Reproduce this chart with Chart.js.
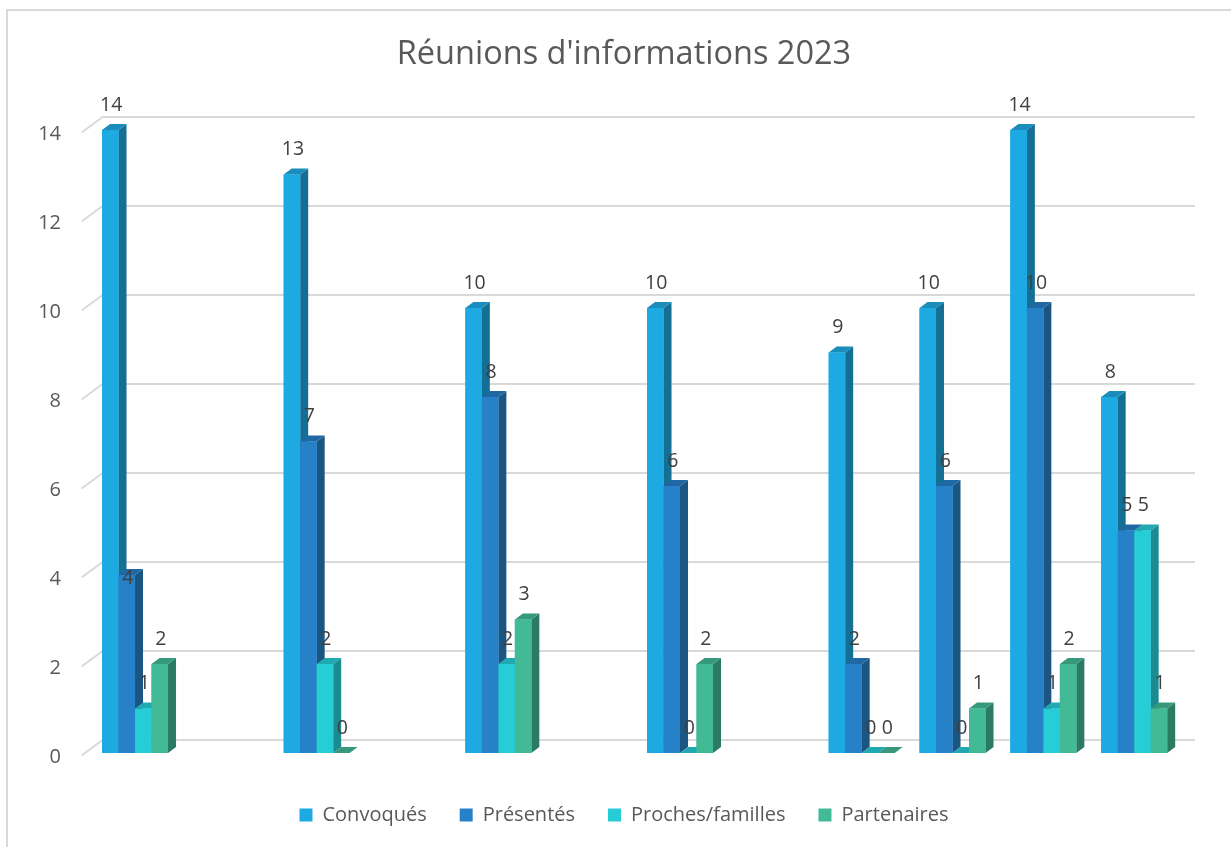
<!DOCTYPE html>
<html>
<head>
<meta charset="utf-8">
<script src="https://cdn.jsdelivr.net/npm/chart.js@4.4.1/dist/chart.umd.min.js"></script>
<style>
html,body{margin:0;padding:0;background:#fff;overflow:hidden}
#wrap{position:relative;width:1231px;height:847px;overflow:hidden}
#frame{position:absolute;left:6px;top:9px;width:1400px;height:1000px;border:2px solid #d9d9d9;box-sizing:border-box}
canvas{position:absolute;left:0;top:0}
</style>
</head>
<body>
<div id="wrap"><div id="frame"></div><canvas id="c" width="1231" height="847"></canvas></div>
<script>
// ---- data ----
const title = "Réunions d'informations 2023";
const categories = ['janv.', 'févr.', 'mars', 'avr.', 'mai', 'juin', 'juil.', 'août', 'sept.', 'oct.', 'nov.', 'déc.'];
const seriesNames = ['Convoqués', 'Présentés', 'Proches/familles', 'Partenaires'];
const convoques  = [14, null, 13, null, 10, null, 10, null, 9, 10, 14, 8];
const presentes  = [4,  null, 7,  null, 8,  null, 6,  null, 2, 6,  10, 5];
const proches    = [1,  null, 2,  null, 2,  null, 0,  null, 0, 0,  1,  5];
const partenaires= [2,  null, 0,  null, 3,  null, 2,  null, 0, 1,  2,  1];
const yTicks = [0, 2, 4, 6, 8, 10, 12, 14];

// ---- style ----
const FONT = "'Open Sans', 'DejaVu Sans', sans-serif";
const frontColors = ['#1DAAE2', '#2681C8', '#26CCD6', '#42BA96'];
const topColors   = ['#1A8DBC', '#2068A3', '#21A9B1', '#36997B'];
const sideColors  = ['#146F94', '#1B5683', '#1A8C91', '#2B7B62'];
const DX = 8, DY = -6;

const bars3d = {
  id: 'bars3d',
  beforeDatasetsDraw(chart) {
    const ctx = chart.ctx, y = chart.scales.y, area = chart.chartArea;
    ctx.save();
    ctx.strokeStyle = '#d9d9d9';
    ctx.lineWidth = 2;
    y.ticks.forEach(t => {
      const py = y.getPixelForValue(t.value);
      ctx.beginPath();
      ctx.moveTo(area.left - 8, py + 2.5);
      ctx.lineTo(area.left + 13, py - 13);
      ctx.lineTo(1195, py - 13);
      ctx.stroke();
    });
    ctx.restore();
  },
  afterDatasetsDraw(chart, args, opts) {
    const ctx = chart.ctx;
    ctx.save();
    const n = chart.data.labels.length;
    const labels = [];
    for (let i = 0; i < n; i++) {
      chart.data.datasets.forEach((ds, d) => {
        const v = ds.data[i];
        if (v === null || v === undefined) return;
        const el = chart.getDatasetMeta(d).data[i];
        const p = el.getProps(['x', 'y', 'base', 'width'], true);
        const l = p.x - p.width / 2, r = p.x + p.width / 2;
        ctx.fillStyle = sideColors[d];
        ctx.beginPath();
        ctx.moveTo(r, p.y); ctx.lineTo(r + DX, p.y + DY);
        ctx.lineTo(r + DX, p.base + DY); ctx.lineTo(r, p.base);
        ctx.closePath(); ctx.fill();
        ctx.fillStyle = topColors[d];
        ctx.beginPath();
        ctx.moveTo(l, p.y); ctx.lineTo(l + DX, p.y + DY);
        ctx.lineTo(r + DX, p.y + DY); ctx.lineTo(r, p.y);
        ctx.closePath(); ctx.fill();
        ctx.fillStyle = frontColors[d];
        ctx.fillRect(l, p.y, p.width, p.base - p.y);
        let dy = 0;
        (opts.nudge || []).forEach(nd => { if (nd.dataset === d && nd.index === i) dy = nd.dy; });
        labels.push({x: p.x + 1, y: p.y - 25 + dy, t: String(v)});
      });
    }
    ctx.fillStyle = '#404040';
    ctx.font = '19.5px ' + FONT;
    ctx.textAlign = 'center';
    ctx.textBaseline = 'middle';
    labels.forEach(lb => ctx.fillText(lb.t, lb.x, lb.y));
    ctx.restore();
  }
};

new Chart(document.getElementById('c'), {
  type: 'bar',
  data: {
    labels: categories,
    datasets: [convoques, presentes, proches, partenaires].map((arr, d) => ({
      label: seriesNames[d],
      data: arr,
      backgroundColor: frontColors[d],
      borderWidth: 0,
      categoryPercentage: 0.7266,
      barPercentage: 1,
      yAxisID: 'y'
    }))
  },
  options: {
    responsive: false,
    animation: false,
    events: [],
    layout: { padding: { left: 30, right: 13, top: 0, bottom: 12 } },
    scales: {
      x: {
        ticks: { display: false },
        grid: { display: false, drawTicks: false },
        border: { display: false },
        afterFit(s) { s.height = 19; }
      },
      y: {
        min: 0, max: 14,
        ticks: { stepSize: 2, color: '#595959', font: { family: FONT, size: 20 }, padding: 28.6, labelOffset: 4.5 },
        grid: { display: false, drawTicks: false },
        border: { display: false },
        afterFit(s) { s.width = 59.6; }
      },
      yR: {
        type: 'linear',
        position: 'right',
        min: 0, max: 14,
        ticks: { display: false },
        grid: { display: false, drawTicks: false },
        border: { display: false },
        afterFit(s) { s.width = 38.4; }
      }
    },
    plugins: {
      title: {
        display: true, text: title, color: '#595959',
        font: { family: FONT, size: 32.5, weight: 'normal' },
        padding: { top: 35.5, bottom: 55.5 }
      },
      legend: {
        position: 'bottom',
        labels: { boxWidth: 13, boxHeight: 13, padding: 33, color: '#595959', font: { family: FONT, size: 20 } }
      },
      tooltip: { enabled: false },
      bars3d: { nudge: [{ dataset: 1, index: 0, dy: 28 }] }
    }
  },
  plugins: [bars3d]
});
</script>
</body>
</html>
